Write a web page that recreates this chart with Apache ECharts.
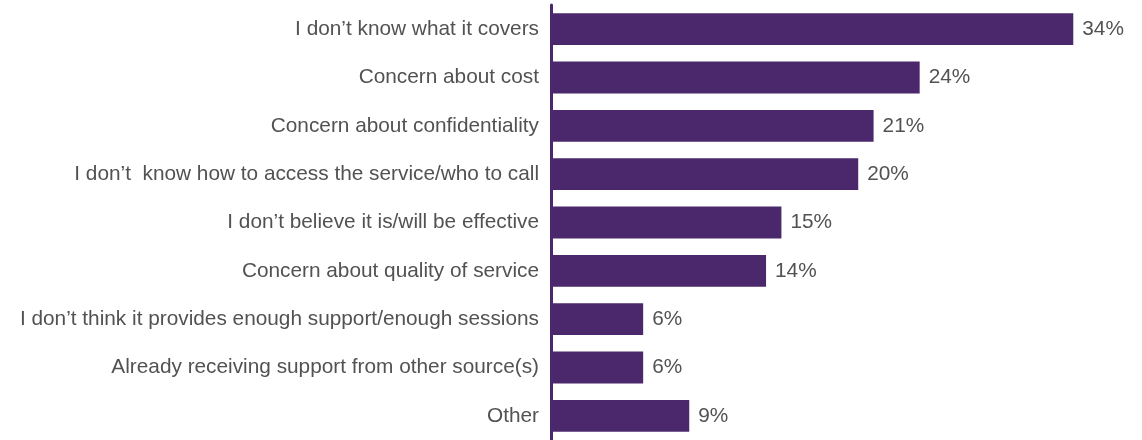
<!DOCTYPE html>
<html>
<head>
<meta charset="utf-8">
<script src="https://cdn.jsdelivr.net/npm/echarts@6/dist/echarts.min.js"></script>
<style>
  html, body { margin: 0; padding: 0; background: #ffffff; }
  #chart { width: 1142px; height: 440px; }
</style>
</head>
<body>
<div id="chart"></div>
<script>
// Reasons for not using the service, top to bottom
const categories = [
  "I don’t know what it covers",
  "Concern about cost",
  "Concern about confidentiality",
  "I don’t  know how to access the service/who to call",
  "I don’t believe it is/will be effective",
  "Concern about quality of service",
  "I don’t think it provides enough support/enough sessions",
  "Already receiving support from other source(s)",
  "Other"
];
const values = [34, 24, 21, 20, 15, 14, 6, 6, 9];

const textStyle = {
  color: '#525252',
  fontSize: 20.8,
  fontFamily: 'Liberation Sans, Arial, sans-serif',
  padding: [4, 0, 0, 0]
};

const chart = echarts.init(document.getElementById('chart'), null, { renderer: 'canvas' });
chart.setOption({
  animation: false,
  backgroundColor: '#ffffff',
  grid: { left: 551, right: 38, top: 5, bottom: -2, containLabel: false },
  xAxis: {
    type: 'value',
    min: 0,
    max: 36,
    show: false
  },
  yAxis: {
    type: 'category',
    data: categories,
    inverse: true,
    axisLine: { show: true, lineStyle: { color: '#4b286d', width: 3 } },
    axisTick: { show: false },
    splitLine: { show: false },
    axisLabel: Object.assign({ margin: 12 }, textStyle)
  },
  series: [{
    type: 'bar',
    data: values,
    barCategoryGap: '34%',
    itemStyle: { color: '#4b286b' },
    label: Object.assign({
      show: true,
      position: 'right',
      distance: 9,
      formatter: p => p.value + '%'
    }, textStyle)
  }]
});
</script>
</body>
</html>
